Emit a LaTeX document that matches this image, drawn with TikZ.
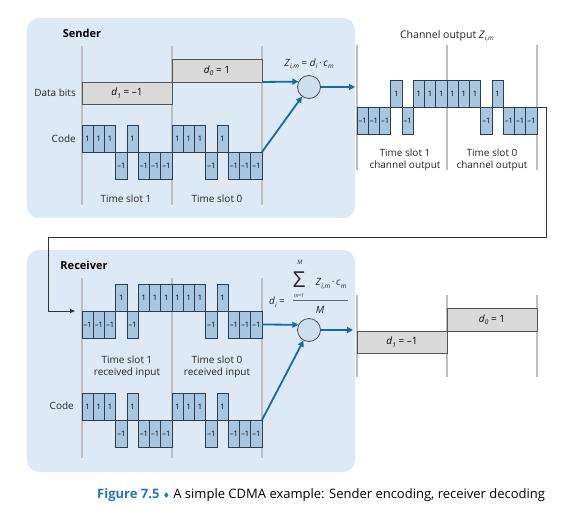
\documentclass[tikz,border=0pt]{standalone}
\usepackage{fontspec}
\setmainfont{Open Sans}
\newfontfamily\dejavu{DejaVu Sans}
\usetikzlibrary{arrows.meta}
\definecolor{panel}{RGB}{221,233,244}
\definecolor{chipfill}{RGB}{168,198,223}
\definecolor{chipline}{RGB}{45,62,80}
\definecolor{slotline}{RGB}{190,190,190}
\definecolor{bitfill}{RGB}{217,217,217}
\definecolor{bitline}{RGB}{85,85,85}
\definecolor{arrowblue}{RGB}{18,108,168}
\definecolor{circfill}{RGB}{205,223,239}
\definecolor{capblue}{RGB}{30,120,190}
\newcommand\lsub[1]{\raisebox{-0.45ex}{\fontsize{6.5}{7}\selectfont\itshape #1}}
\newcommand\chipwave[4]{%
  \foreach \v [count=\k] in {#4} {%
    \ifnum\v>0
      \node[chip,anchor=south west] (#1\k) at ({#2+(\k-1)*11.25},#3) {1};
    \else
      \node[chip,anchor=north west] (#1\k) at ({#2+(\k-1)*11.25},#3) {–1};
    \fi
  }%
}
\tikzset{
  panelbox/.style={fill=panel, draw=none, rounded corners=12pt},
  slot/.style={draw=slotline, line width=1.6pt},
  chip/.style={draw=chipline, fill=chipfill, line width=0.7pt, inner sep=0pt, outer sep=0pt,
    minimum width=11.25pt, minimum height=27pt, font=\fontsize{7.5}{7.5}\selectfont},
  bit/.style={draw=bitline, fill=bitfill, line width=0.9pt, inner sep=0pt, outer sep=0pt,
    minimum width=90pt, minimum height=22.5pt, font=\fontsize{10}{12}\selectfont},
  arr/.style={draw=arrowblue, line width=1.8pt, -{Triangle[length=6pt,width=6pt]}},
  conn/.style={draw=black!80, line width=0.8pt, -{Triangle[length=5pt,width=4pt]}},
  circ/.style={circle, draw=black!70, fill=circfill, line width=0.8pt, minimum size=23pt, inner sep=0pt},
  lbl/.style={font=\fontsize{10}{12}\selectfont, text=black!85, inner sep=0pt},
  ttl/.style={font=\fontsize{11}{13}\selectfont\bfseries, inner sep=0pt},
}
\begin{document}
\begin{tikzpicture}[x=1pt,y=-1pt]
\useasboundingbox[fill=white] (0,0) rectangle (569,510);
% panels
\path[panelbox] (27,18) rectangle (355,218);
\path[panelbox] (27,250) rectangle (355,472);
% ---------------- Sender
\node[ttl] (sendt) at (82,33) {Sender};
\foreach \x in {82,172,262} \draw[slot] (\x,46) -- (\x,205);
\node[lbl, anchor=east] (dbl) at (76,93) {Data bits};
\node[bit, anchor=north west] (sd1) at (82,82) {\textit{d}\lsub{1} = –1};
\node[bit, anchor=south west] (sd0) at (172,82) {\textit{d}\lsub{0} = 1};
\node[lbl, anchor=east] (scl) at (76,139) {Code};
\chipwave{sc}{82}{152}{1,1,1,-1,1,-1,-1,-1,1,1,1,-1,1,-1,-1,-1}
\node[lbl] (sts1) at (126,199) {Time slot 1};
\node[lbl] (sts0) at (217,199) {Time slot 0};
\node[circ] (scirc) at (309,87) {};
\node[lbl] (sform) at (309,64) {\textit{Z}\lsub{i,m} = \textit{d}\lsub{i}\,·\,\textit{c}\lsub{m}};
\coordinate (sout) at (355,87);
\draw[arr] (sd0.south east) -- (scirc.153);
\draw[arr] (sc16.north east) -- (scirc);
\draw[arr] (scirc.east) -- (sout);
% ---------------- Channel
\node[lbl, font=\fontsize{10.5}{12}\selectfont] (cht) at (447,36) {Channel output \textit{Z}\lsub{i,m}};
\foreach \x in {357,447,537} \draw[slot] (\x,45) -- (\x,170);
\chipwave{ch}{357}{107}{-1,-1,-1,1,-1,1,1,1,1,1,1,-1,1,-1,-1,-1}
\node[lbl, align=center] (cts1) at (405,160) {Time slot 1\\channel output};
\node[lbl, align=center] (cts0) at (492,160) {Time slot 0\\channel output};
\coordinate (c1) at (546,237);
\coordinate (c2) at (48,237);
\coordinate (rin) at (75,311);
\draw[conn] (ch16.north east) -| (c1) -- (c2) |- (rin);
% ---------------- Receiver
\node[ttl] (rect) at (84,265) {Receiver};
\foreach \x in {82,172,262} \draw[slot] (\x,278) -- (\x,458);
\chipwave{ri}{82}{311}{-1,-1,-1,1,-1,1,1,1,1,1,1,-1,1,-1,-1,-1}
\node[lbl, align=center] (rts1) at (127,367) {Time slot 1\\received input};
\node[lbl, align=center] (rts0) at (217,367) {Time slot 0\\received input};
\node[lbl, anchor=east] (rcl) at (74,406) {Code};
\chipwave{rc}{82}{420}{1,1,1,-1,1,-1,-1,-1,1,1,1,-1,1,-1,-1,-1}
\node[circ] (rcirc) at (309,330) {};
% formula
\node[lbl] (rdi) at (277,302) {\textit{d}\lsub{i} =};
\node[inner sep=0pt, text=black!85] (rsig) at (299,280) {\fontsize{22}{22}\selectfont Σ};
\node[inner sep=0pt, text=black!85] (rsigt) at (300,262) {\fontsize{6}{6}\selectfont\itshape M};
\node[inner sep=0pt, text=black!85] (rsigb) at (299,295.5) {\fontsize{5}{5}\selectfont\itshape m=1};
\node[lbl] (rnum) at (331,284) {\textit{Z}\lsub{i,m}\,·\,\textit{c}\lsub{m}};
\draw[black!60, line width=0.8pt] (293,300) -- (348,300);
\node[lbl] (rden) at (320,310) {\textit{M}};
\coordinate (rout) at (353,330);
\draw[arr] (ri16.east) -- (rcirc.154);
\draw[arr] (rc16.north east) -- (rcirc);
\draw[arr] (rcirc.east) -- (rout);
% decoded
\foreach \x in {357,447,537} \draw[slot] (\x,295) -- (\x,377);
\node[bit, anchor=north west] (rd1) at (357,331) {\textit{d}\lsub{1} = –1};
\node[bit, anchor=south west] (rd0) at (447,331) {\textit{d}\lsub{0} = 1};
% caption
\node[anchor=west, inner sep=0pt, font=\fontsize{13}{15}\selectfont] (cap) at (97,495)
  {\textcolor{capblue}{\bfseries Figure 7.5} {\color{capblue}\dejavu\fontsize{8}{9}\selectfont ♦} A simple CDMA example: Sender encoding, receiver decoding};
\end{tikzpicture}
\end{document}
